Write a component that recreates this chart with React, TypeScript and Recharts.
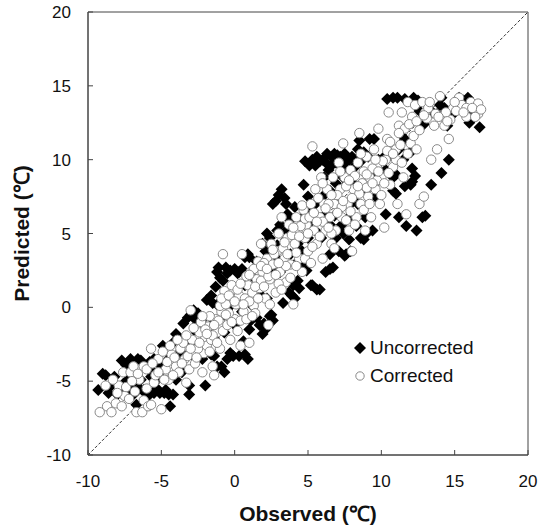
import React from 'react';
import {
  ScatterChart,
  Scatter,
  XAxis,
  YAxis,
  ReferenceLine,
  ReferenceArea,
  Legend,
} from 'recharts';

// [observed, predicted] pairs (°C)
const uncorrectedCold: [number, number][] = [
  [-9.3, -5.6], [-9.0, -4.5], [-8.8, -4.6], [-8.6, -5.8], [-8.2, -4.7], [-7.9, -5.7],
  [-7.7, -3.6], [-7.4, -5.6], [-7.1, -3.5], [-7.0, -5.6], [-6.7, -6.6], [-6.5, -5.5],
  [-6.4, -3.6], [-6.1, -5.8], [-5.8, -3.7], [-5.7, -4.7], [-5.5, -5.8], [-5.2, -3.6],
  [-5.1, -5.8], [-4.9, -2.6], [-4.8, -5.8], [-4.5, -5.9], [-4.4, -6.7], [-4.2, -5.9],
  [-4.2, -2.4], [-4.0, -1.8], [-3.6, -2.2], [-3.1, -5.9], [-3.1, -5.3], [-3.2, -0.7],
  [-3.0, -0.5], [-2.7, -0.8], [-2.5, -0.4], [-2.1, -2.9], [-2.0, -5.3], [-1.9, 0.5],
  [-1.6, -3.2], [-1.6, 0.8], [-1.4, -3.3], [-0.9, -4.0], [-0.7, -4.4], [-0.3, -3.1],
  [-0.1, -3.3], [-2.6, -2.4], [-2.2, -3.5], [-1.2, -4.0], [-1.6, -1.2], [-2.1, -1.2],
  [-2.6, -1.7], [-3.1, -2.4], [-3.6, -3.1], [-4.0, -3.3], [-4.5, -3.5], [-5.0, -4.0],
  [-5.5, -4.4], [-5.9, -4.2], [-6.4, -4.9], [-6.9, -5.1], [-7.3, -4.9], [-5.1, -4.7],
  [-4.0, -4.9], [-3.6, -4.4], [-2.6, -3.5], [-1.9, -3.0], [-1.4, -2.1], [-0.7, -1.7],
  [0.0, -1.2], [-0.7, -0.5], [-1.2, 0.2], [-8.5, -5.4], [-8.0, -5.9], [-7.6, -5.2],
  [-6.9, -5.9], [-6.2, -5.6], [-5.9, -6.0], [-5.3, -5.5], [-4.7, -5.6], [-6.6, -3.5],
  [-7.4, -3.9], [-5.5, -3.5], [-3.5, -1.1], [-2.8, -0.2], [-2.3, -0.9], [-1.5, 0.3],
  [-0.5, -3.5],
];

const uncorrectedMild: [number, number][] = [
  [-1.3, 1.4], [-1.2, 2.4], [-1.1, 2.7], [-0.8, 1.8], [-0.6, 2.7], [-0.5, 2.3],
  [0.0, 2.6], [0.3, 2.4], [0.5, 2.6], [0.6, -2.3], [0.7, -3.2], [0.9, -3.5],
  [0.9, 3.6], [1.1, -0.9], [1.5, -0.7], [1.7, -1.2], [1.9, -1.8], [2.1, -1.5],
  [2.1, 3.8], [2.2, 5.0], [2.4, -0.6], [2.5, -0.5], [2.6, 7.0], [2.9, 4.2],
  [3.1, 5.6], [3.2, 8.0], [3.4, 7.4], [3.5, 4.6], [3.6, 6.3], [3.7, 1.0],
  [4.0, 1.5], [4.1, 6.8], [4.1, 0.6], [4.3, 1.8], [4.6, 2.9], [4.7, 8.3],
  [0.5, -0.3], [1.2, 0.1], [1.8, 0.8], [2.2, 0.6], [3.1, 2.4], [3.6, 2.9],
  [0.7, 3.4], [1.5, 3.1], [1.9, 4.3], [2.4, 4.7], [2.9, 5.2], [3.5, 5.2],
  [3.8, 5.9], [4.6, 6.1], [4.6, 3.8], [4.3, 3.1], [0.7, 1.5], [0.3, 0.6],
  [-0.2, 0.2], [-1.0, 2.0], [-0.3, 2.5], [0.2, 2.3], [0.3, -3.3], [1.0, -1.5],
  [2.0, -1.1], [2.6, -0.9], [3.3, 0.3], [3.9, 0.8], [4.4, 1.3], [1.0, 3.4],
  [1.3, 2.0], [2.6, 2.5], [3.0, 3.2], [3.8, 3.6], [4.3, 4.3], [2.8, 7.2],
  [3.0, 7.6], [3.5, 7.0],
];

const uncorrectedWarm: [number, number][] = [
  [4.8, 9.9], [4.9, 2.5], [5.0, 7.5], [5.2, 1.5], [5.3, 10.0], [5.5, 9.6],
  [5.6, 1.2], [5.8, 9.9], [5.9, 4.7], [6.0, 10.0], [6.1, 8.8], [6.2, 2.4],
  [6.3, 10.4], [6.5, 2.6], [6.6, 10.2], [6.7, 2.7], [6.8, 10.4], [6.9, 9.8],
  [7.1, 3.8], [7.2, 10.2], [7.4, 5.0], [7.5, 10.4], [7.6, 3.6], [7.8, 10.0],
  [7.9, 6.2], [8.0, 10.2], [8.1, 9.5], [8.4, 10.7], [8.5, 11.3], [8.6, 4.7],
  [8.7, 10.2], [8.9, 6.1], [9.2, 11.4], [9.4, 5.2], [9.5, 11.4], [9.6, 7.5],
  [9.8, 8.6], [10.2, 10.2], [10.3, 6.3], [10.3, 9.3], [10.4, 14.1], [10.8, 8.8],
  [11.0, 7.7], [11.1, 14.2], [11.2, 10.7], [11.2, 6.1], [11.6, 11.4], [11.7, 5.5],
  [12.0, 8.3], [12.1, 9.4], [12.2, 14.2], [12.3, 8.9], [12.4, 5.2], [12.9, 12.4],
  [13.0, 6.2], [13.4, 8.3], [14.0, 13.7], [14.1, 14.2], [14.1, 9.1], [14.3, 13.5],
  [14.5, 12.3], [14.6, 10.0], [14.9, 13.5], [15.3, 14.2], [15.5, 13.3], [15.9, 14.2],
  [16.0, 12.5], [16.3, 13.3], [16.6, 13.3], [16.7, 12.2], [5.0, 6.6], [5.5, 7.0],
  [6.0, 7.5], [6.5, 7.9], [6.9, 8.4], [7.4, 8.8], [7.9, 7.0], [8.4, 7.0],
  [8.9, 7.9], [9.3, 8.8], [9.8, 10.0], [9.1, 10.2], [6.5, 5.6], [6.9, 4.7],
  [5.0, 4.7], [7.9, 3.8], [12.8, 6.1], [5.1, 9.6], [5.6, 10.2], [6.2, 9.8],
  [6.7, 9.7], [7.0, 10.3], [7.3, 9.9], [7.7, 10.1], [8.2, 10.0], [8.3, 9.6],
  [8.8, 10.5], [7.6, 9.5], [6.4, 9.3], [8.6, 9.9], [5.3, 1.5], [5.8, 1.2],
  [5.2, 5.8], [5.7, 5.0], [6.2, 6.3], [6.8, 6.2], [7.3, 5.6], [7.8, 4.6],
  [8.3, 5.5], [8.8, 4.6], [9.0, 5.0], [7.5, 3.5], [6.5, 3.6], [7.0, 7.2],
  [8.0, 8.5], [9.5, 9.0], [10.6, 10.3], [11.0, 9.0], [11.5, 10.0], [12.0, 10.5],
  [10.8, 7.9], [11.6, 8.2], [12.1, 8.5], [10.8, 14.2], [11.6, 14.1], [12.5, 14.0],
  [13.5, 13.2], [13.8, 13.1], [14.8, 13.1], [15.0, 13.2], [15.6, 14.0], [16.5, 13.0],
  [12.6, 13.3],
];

const correctedCold: [number, number][] = [
  [-9.2, -7.1], [-8.7, -6.7], [-8.4, -7.1], [-8.1, -6.5], [-7.7, -6.7], [-7.5, -6.0],
  [-7.9, -5.3], [-8.8, -5.3], [-8.3, -4.9], [-7.6, -4.4], [-7.1, -4.4], [-6.9, -4.0],
  [-6.5, -4.9], [-6.7, -7.1], [-6.3, -7.1], [-6.2, -6.3], [-5.9, -6.7], [-5.7, -6.6],
  [-5.0, -6.9], [-5.5, -5.1], [-6.2, -4.0], [-5.7, -2.8], [-5.2, -3.5], [-4.7, -4.2],
  [-4.5, -4.9], [-4.3, -3.2], [-4.0, -4.0], [-3.8, -4.4], [-3.7, -2.8], [-3.4, -3.5],
  [-3.3, -5.1], [-3.1, -4.2], [-3.0, -0.2], [-2.8, -3.1], [-2.7, -3.8], [-2.6, -2.2],
  [-2.4, -1.7], [-2.2, -4.4], [-2.1, -3.1], [-1.9, -2.6], [-1.8, -1.3], [-1.6, -2.2],
  [-1.5, -4.0], [-1.4, -4.6], [-1.3, -0.8], [-1.2, -1.7], [-1.0, -2.8], [-0.9, -0.3],
  [-7.2, -6.2], [-6.8, -5.7], [-6.0, -5.5], [-5.4, -4.6], [-4.8, -4.9], [-4.6, -3.7],
  [-4.1, -3.4], [-3.5, -2.4], [-3.2, -3.3], [-2.9, -2.2], [-2.5, -2.8], [-2.3, -1.0],
  [-2.0, -1.5], [-1.7, -0.6], [-1.5, -1.9], [-1.1, -0.9], [-8.0, -5.8], [-7.4, -5.4],
  [-7.0, -5.0], [-6.6, -4.5], [-6.0, -4.2], [-5.6, -3.8], [-5.2, -4.4], [-4.9, -3.0],
  [-4.4, -2.6], [-4.2, -4.6], [-3.9, -2.2], [-3.6, -3.8], [-3.3, -1.9], [-3.0, -2.8],
  [-2.8, -1.4], [-2.6, -3.4], [-2.4, -2.4], [-2.2, -0.6], [-1.9, -1.8], [-1.7, -3.0],
  [-1.4, -1.2], [-1.2, -2.4], [-1.0, 0.1], [-0.8, -1.6],
];

const correctedMild: [number, number][] = [
  [-0.8, 3.6], [-0.7, 1.1], [-0.6, 0.2], [-0.5, -1.2], [-0.3, -2.2], [-0.2, 1.5],
  [-0.1, 0.6], [0.0, -0.8], [0.1, 0.2], [0.3, 0.8], [0.4, -2.6], [0.5, 3.6],
  [0.6, -0.3], [0.7, 0.6], [0.9, 1.5], [1.0, -2.4], [1.1, 2.4], [1.2, 1.0],
  [1.3, 0.1], [1.5, 1.9], [1.6, 3.1], [1.7, 1.3], [1.8, 4.3], [1.9, 2.4],
  [2.1, 0.6], [2.2, 3.3], [2.3, -1.2], [2.4, 1.9], [2.5, 4.3], [2.6, 2.9],
  [2.8, 1.0], [2.9, 3.8], [3.0, 5.0], [3.1, 2.4], [3.2, 6.1], [3.4, 3.3],
  [3.5, 1.7], [3.6, 4.7], [3.7, 5.6], [3.8, 2.9], [4.0, 0.2], [4.1, 4.3],
  [4.2, 6.1], [4.3, 5.2], [4.4, 3.3], [4.6, 2.4], [4.7, 6.6], [4.8, 4.7],
  [4.9, 5.6], [-0.9, 0.6], [-0.4, -0.4], [0.2, 1.2], [0.4, -0.9], [0.8, 2.1],
  [1.0, 0.4], [1.3, 2.6], [1.4, -0.4], [1.8, 1.8], [2.0, 3.0], [2.3, 2.1],
  [2.7, 3.6], [3.0, 1.6], [3.3, 4.0], [3.5, 2.8], [3.9, 4.9], [4.2, 3.7],
  [4.5, 5.5], [4.8, 3.3], [-0.6, -0.5], [-0.4, 0.8], [-0.2, -1.0], [0.0, 0.4],
  [0.2, -1.6], [0.4, 1.6], [0.6, 0.2], [0.8, -0.8], [1.0, 2.2], [1.2, -0.6],
  [1.4, 1.4], [1.6, 0.6], [1.8, 2.8], [2.0, 1.4], [2.2, 2.6], [2.4, 0.2],
  [2.6, 3.9], [2.8, 2.2], [3.0, 3.0], [3.2, 1.2], [3.4, 4.4], [3.6, 3.6],
  [3.8, 2.0], [4.0, 5.4], [4.2, 2.8], [4.4, 4.8], [4.6, 6.9], [4.8, 6.0],
];

const correctedWarm: [number, number][] = [
  [5.0, 3.8], [5.2, 7.0], [5.3, 10.9], [5.4, 5.2], [5.5, 8.0], [5.6, 4.3],
  [5.8, 6.1], [5.9, 8.8], [6.0, 3.3], [6.1, 7.0], [6.2, 5.2], [6.3, 8.0],
  [6.5, 6.1], [6.6, 4.3], [6.7, 8.8], [6.8, 7.0], [6.9, 5.2], [7.1, 9.8],
  [7.2, 8.0], [7.3, 6.1], [7.4, 11.1], [7.5, 8.8], [7.7, 7.0], [7.8, 5.2],
  [7.9, 9.3], [8.0, 3.8], [8.1, 8.0], [8.3, 6.1], [8.4, 9.8], [8.5, 11.8],
  [8.6, 7.0], [8.7, 8.4], [8.9, 5.2], [9.0, 10.2], [9.1, 7.5], [9.2, 8.8],
  [9.3, 6.1], [9.5, 10.7], [9.6, 8.0], [9.7, 9.5], [9.8, 12.1], [9.9, 7.0],
  [10.0, 8.8], [10.2, 5.4], [10.3, 10.0], [10.4, 11.4], [10.5, 13.2], [10.6, 8.3],
  [10.8, 9.5], [11.0, 10.7], [11.1, 7.0], [11.2, 12.3], [11.4, 13.2], [11.5, 8.8],
  [11.6, 12.1], [11.7, 6.3], [11.8, 13.9], [12.0, 11.1], [12.1, 12.9], [12.3, 13.7],
  [12.4, 10.7], [12.6, 7.0], [12.8, 13.9], [12.9, 7.5], [13.0, 13.2], [13.2, 13.5],
  [13.4, 10.0], [13.6, 12.3], [13.8, 10.7], [14.0, 14.3], [14.2, 12.9], [14.3, 12.3],
  [14.6, 11.4], [14.7, 12.7], [14.9, 13.5], [15.3, 14.2], [15.5, 13.7], [15.8, 12.9],
  [16.1, 13.9], [16.4, 13.5], [16.6, 13.8], [16.6, 13.1], [5.1, 6.1], [5.3, 4.1],
  [5.7, 7.4], [6.0, 5.8], [6.4, 7.0], [6.6, 5.0], [7.0, 7.6], [7.3, 6.8],
  [7.6, 8.2], [7.9, 6.5], [8.2, 8.9], [8.5, 7.7], [8.8, 9.2], [9.0, 8.1],
  [9.4, 9.4], [9.7, 8.6], [10.1, 9.9], [10.5, 9.1], [11.0, 10.0], [11.3, 11.0],
  [11.8, 10.4], [12.2, 11.6], [12.6, 12.0], [13.1, 12.8], [13.7, 13.1], [14.4, 13.2],
  [15.0, 13.9], [15.8, 13.5], [16.4, 12.9], [5.0, 5.0], [5.2, 3.0], [5.4, 6.4],
  [5.6, 5.8], [5.8, 4.8], [6.0, 8.4], [6.2, 6.7], [6.4, 5.4], [6.6, 7.6],
  [6.8, 4.0], [7.0, 6.4], [7.2, 9.2], [7.4, 7.2], [7.6, 5.9], [7.8, 8.6],
  [8.0, 7.4], [8.2, 5.6], [8.4, 8.2], [8.6, 10.4], [8.8, 6.6], [9.0, 9.0],
  [9.2, 7.0], [9.4, 8.4], [9.6, 10.0], [9.8, 9.2], [10.0, 7.6], [10.2, 8.4],
  [10.4, 10.6], [10.6, 11.2], [10.8, 10.4], [11.2, 11.8], [11.4, 9.8], [11.9, 12.4],
  [12.4, 12.6], [12.9, 13.0], [13.3, 13.9], [13.9, 12.9], [14.5, 12.6], [15.1, 13.3],
  [15.6, 13.2], [16.2, 13.5], [16.8, 13.4],
];

const axisTicks = [-10, -5, 0, 5, 10, 15, 20];

const toPoints = (rows: [number, number][]) => rows.map(([obs, pred]) => ({ obs, pred }));

const uncorrectedData = toPoints([...uncorrectedCold, ...uncorrectedMild, ...uncorrectedWarm]);
const correctedData = toPoints([...correctedCold, ...correctedMild, ...correctedWarm]);

const FONT = 'Arial, "Liberation Sans", sans-serif';

const Diamond = ({ cx, cy }: any) => (
  <path d={`M${cx},${cy - 6}L${cx + 6},${cy}L${cx},${cy + 6}L${cx - 6},${cy}Z`} fill="#000" />
);

const Ring = ({ cx, cy }: any) => (
  <circle cx={cx} cy={cy} r={4.7} fill="#fff" stroke="#8a8a8a" strokeWidth={1} />
);

const XTick = ({ x, y, payload }: any) => (
  <g>
    <line x1={x} y1={y} x2={x} y2={y - 5} stroke="#444" />
    <text x={x} y={y + 32} textAnchor="middle" fontSize={17} fontFamily={FONT} fill="#111">
      {payload.value}
    </text>
  </g>
);

const YTick = ({ x, y, payload }: any) => (
  <g>
    <line x1={x} y1={y} x2={x + 5} y2={y} stroke="#444" />
    <text x={x - 17} y={y + 6} textAnchor="end" fontSize={17} fontFamily={FONT} fill="#111">
      {payload.value}
    </text>
  </g>
);

const renderLegend = () => (
  <div style={{ fontFamily: FONT, fontSize: 19, color: '#111', lineHeight: '28px' }}>
    <div style={{ display: 'flex', alignItems: 'center' }}>
      <svg width={14} height={14} style={{ marginRight: 3 }}>
        <path d="M7,1L13,7L7,13L1,7Z" fill="#000" />
      </svg>
      Uncorrected
    </div>
    <div style={{ display: 'flex', alignItems: 'center' }}>
      <svg width={14} height={14} style={{ marginRight: 3 }}>
        <circle cx={7} cy={7} r={4.2} fill="#fff" stroke="#8a8a8a" />
      </svg>
      Corrected
    </div>
  </div>
);

export default function App() {
  return (
    <div style={{ position: 'absolute', left: 0, top: 0, background: '#fff' }}>
      <ScatterChart width={553} height={531} margin={{ top: 12, right: 25, bottom: 0, left: 0 }}>
        <XAxis
          type="number"
          dataKey="obs"
          domain={[-10, 20]}
          ticks={axisTicks}
          height={76}
          tickSize={0}
          tickMargin={0}
          tick={<XTick />}
          stroke="#444"
          label={{ value: 'Observed (℃)', position: 'insideBottom', offset: 10, style: { fontFamily: FONT, fontSize: 21, fontWeight: 'bold', fill: '#111' } }}
        />
        <YAxis
          type="number"
          dataKey="pred"
          domain={[-10, 20]}
          ticks={axisTicks}
          width={88}
          tickSize={0}
          tickMargin={0}
          tick={<YTick />}
          stroke="#444"
          label={{ value: 'Predicted (℃)', angle: -90, position: 'insideLeft', offset: 22, style: { fontFamily: FONT, fontSize: 21, fontWeight: 'bold', fill: '#111', textAnchor: 'middle' } }}
        />
        <ReferenceArea x1={-10} x2={20} y1={-10} y2={20} fill="none" stroke="#444" strokeWidth={1} />
        <ReferenceLine
          segment={[{ x: -10, y: -10 }, { x: 20, y: 20 }]}
          stroke="#333"
          strokeDasharray="3 2"
          strokeWidth={1}
        />
        <Legend
          layout="vertical"
          align="center"
          verticalAlign="middle"
          content={renderLegend}
          wrapperStyle={{ left: 353, top: 334, width: 160 }}
        />
        <Scatter name="Uncorrected" data={uncorrectedData} shape={<Diamond />} isAnimationActive={false} />
        <Scatter name="Corrected" data={correctedData} shape={<Ring />} isAnimationActive={false} />
      </ScatterChart>
    </div>
  );
}
